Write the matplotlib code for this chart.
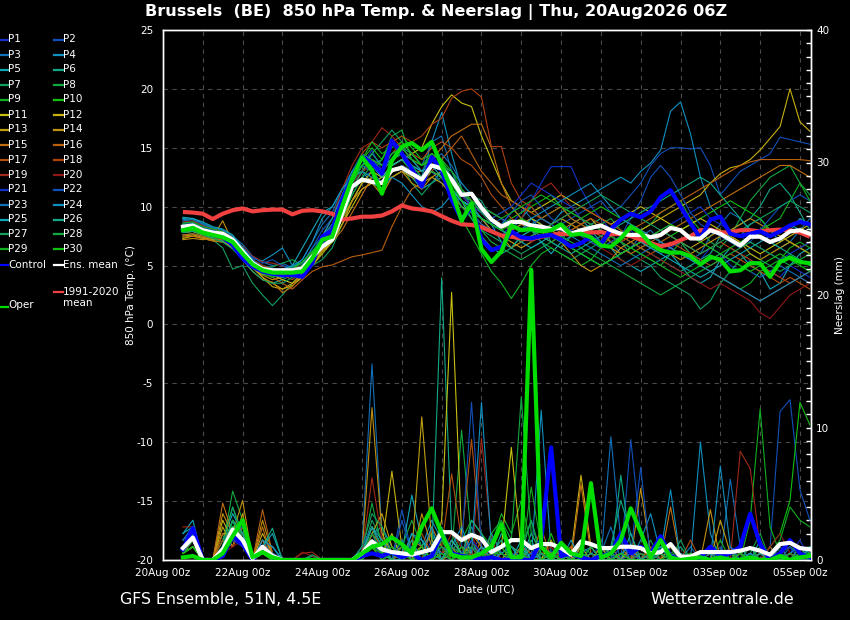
import matplotlib
matplotlib.use('Agg')
import matplotlib.pyplot as plt
from matplotlib.lines import Line2D
from matplotlib.ticker import MultipleLocator, FixedLocator

# ---------------- data ----------------
# 6-hourly steps starting 20Aug 12z (x in days since 20Aug 00z)
n_steps = 64
first_day_offset = 0.5
step_days = 0.25

xtick_days = [0, 2, 4, 6, 8, 10, 12, 14, 16]
xtick_labels = ['20Aug 00z', '22Aug 00z', '24Aug 00z', '26Aug 00z', '28Aug 00z',
                '30Aug 00z', '01Sep 00z', '03Sep 00z', '05Sep 00z']

base_colors = ['#1030c8', '#1050b8', '#1070b8', '#1090c0', '#10a8b8',
               '#10a888', '#10a060', '#10a840', '#10b020', '#10c010',
               '#c8c010', '#c8b010', '#c0a010', '#c09010', '#c07010',
               '#b86010', '#b05010', '#b04010', '#a02818', '#901818']

ens_mean_t = [8.3, 8.4, 8.0, 7.8, 7.7, 7.2, 6.2, 5.2,
              4.7, 4.6, 4.6, 4.6, 4.75, 5.75, 6.6, 7.2,
              9.4, 11.7, 12.3, 12.1, 12.0, 13.1, 13.3, 12.8,
              12.3, 13.5, 13.25, 12.3, 11.0, 11.1, 9.9, 8.9,
              8.3, 8.7, 8.7, 8.4, 8.3, 8.1, 8.2, 7.7,
              8.0, 8.2, 8.4, 8.0, 7.7, 7.6, 7.6, 7.4,
              7.6, 8.2, 8.0, 7.3, 7.3, 8.0, 7.7, 7.2,
              6.7, 7.45, 7.45, 7.0, 7.3, 7.9, 8.0, 7.7]

control_t = [8.0, 8.3, 7.9, 7.6, 7.4, 6.75, 5.6, 4.9,
             4.5, 4.3, 4.2, 4.2, 4.05, 5.2, 7.45, 8.0,
             10.6, 12.5, 14.2, 13.7, 12.8, 15.6, 14.5, 13.2,
             11.7, 14.2, 13.1, 10.6, 8.9, 10.0, 7.2, 6.3,
             6.6, 7.9, 7.4, 7.3, 7.5, 7.6, 7.2, 6.6,
             6.9, 7.45, 6.8, 8.1, 8.9, 9.4, 9.1, 9.6,
             10.8, 11.4, 10.0, 8.6, 7.3, 8.9, 9.15, 7.7,
             7.5, 7.7, 7.9, 7.5, 7.9, 8.4, 8.7, 8.5]

oper_t = [8.0, 8.2, 7.8, 7.6, 7.4, 7.0, 6.0, 5.1,
          4.6, 4.4, 4.4, 4.4, 4.5, 5.6, 7.2, 7.45,
          10.0, 12.4, 14.2, 13.1, 11.1, 13.9, 15.1, 15.4,
          14.8, 15.5, 13.5, 11.4, 8.8, 10.3, 6.4, 5.3,
          6.2, 8.4, 8.0, 8.1, 7.9, 8.0, 8.5, 7.6,
          7.7, 7.4, 6.7, 6.6, 7.3, 8.3, 7.8, 6.8,
          6.3, 6.1, 6.1, 5.8, 5.1, 5.75, 5.5, 4.5,
          4.6, 5.2, 5.2, 4.05, 5.3, 5.7, 5.3, 5.2]

clim_t = [9.55, 9.5, 9.4, 8.95, 9.4, 9.7, 9.85, 9.6,
          9.7, 9.75, 9.75, 9.35, 9.65, 9.7, 9.6, 9.4,
          8.9, 9.0, 9.15, 9.15, 9.25, 9.6, 10.1, 9.85,
          9.75, 9.6, 9.2, 8.8, 8.5, 8.45, 8.25, 7.9,
          7.55, 7.45, 7.3, 7.25, 7.45, 7.6, 7.7, 7.65,
          7.8, 7.8, 7.85, 7.65, 7.7, 7.5, 7.2, 6.9,
          6.65, 6.8, 7.15, 7.5, 8.0, 8.05, 7.8, 7.85,
          8.0, 8.0, 7.9, 8.0, 8.05, 8.0, 7.8, 7.45]

t01 = [8.1, 8.2, 7.9, 7.6, 7.5, 7.0, 6.0, 5.0,
       4.3, 4.2, 4.5, 4.0, 4.3, 5.2, 6.5, 7.5,
       10.0, 12.5, 13.5, 14.8, 13.0, 14.0, 14.5, 13.0,
       12.0, 13.0, 12.5, 11.0, 10.0, 9.5, 8.5, 8.0,
       7.5, 8.5, 9.5, 10.5, 12.0, 13.4, 13.4, 13.4,
       11.5, 10.0, 9.0, 8.0, 7.5, 8.0, 7.0, 6.5,
       6.0, 6.5, 7.0, 6.0, 5.5, 6.5, 6.0, 5.0,
       4.5, 5.5, 5.0, 4.5, 4.0, 5.0, 4.5, 4.0]
t02 = [8.6, 8.7, 8.3, 8.0, 7.9, 7.4, 6.5, 5.5,
       5.0, 4.8, 4.4, 4.6, 5.0, 6.0, 7.0, 8.0,
       9.5, 11.0, 12.5, 13.0, 12.0, 13.5, 14.0, 13.5,
       12.5, 13.0, 12.0, 11.5, 10.5, 10.0, 9.0, 8.5,
       9.0, 8.0, 8.5, 9.0, 8.5, 8.0, 8.5, 9.0,
       9.5, 10.0, 10.5, 9.5, 10.0, 11.0, 12.0, 13.5,
       14.5, 15.0, 15.0, 14.9, 15.0, 13.5, 11.0, 12.0,
       13.0, 13.5, 14.0, 14.5, 15.9, 15.7, 15.5, 15.3]
t03 = [8.9, 9.0, 8.6, 8.2, 8.0, 7.5, 6.8, 5.8,
       5.3, 5.0, 5.2, 4.8, 5.5, 7.0, 8.5, 9.5,
       11.5, 13.0, 14.5, 14.0, 13.0, 14.5, 15.0, 14.0,
       13.5, 15.5, 16.0, 13.0, 11.0, 10.5, 9.5, 9.0,
       8.5, 9.5, 10.0, 9.0, 8.0, 7.5, 7.0, 7.5,
       8.0, 7.0, 6.5, 7.0, 6.0, 6.5, 7.5, 8.0,
       7.0, 6.5, 6.0, 5.5, 6.0, 7.5, 8.5, 9.5,
       9.0, 8.0, 7.5, 7.0, 6.5, 7.0, 8.0, 9.0]
t04 = [8.4, 8.5, 8.1, 7.9, 7.8, 7.3, 6.4, 5.6,
       5.4, 5.9, 6.5, 5.0, 4.5, 6.0, 7.5, 8.5,
       10.5, 12.0, 13.0, 13.5, 12.5, 13.5, 14.0, 13.0,
       12.5, 15.5, 18.0, 14.5, 11.5, 10.0, 9.0, 8.0,
       7.5, 8.0, 9.0, 10.0, 9.0, 8.5, 9.5, 10.0,
       10.5, 11.0, 11.5, 12.0, 12.5, 12.0, 13.0, 13.7,
       14.8, 18.1, 18.9, 16.2, 12.5, 10.0, 9.0, 8.0,
       7.5, 8.5, 9.0, 8.0, 7.0, 8.0, 9.0, 8.5]
t05 = [9.0, 8.9, 8.5, 8.1, 7.9, 7.3, 6.0, 5.0,
       4.5, 4.0, 4.5, 5.0, 6.5, 8.0, 9.5, 10.0,
       11.5, 12.5, 13.0, 12.0, 11.5, 12.5, 13.0, 12.5,
       11.5, 12.0, 13.0, 11.5, 10.0, 9.5, 9.0, 8.5,
       7.0, 6.5, 7.5, 8.0, 7.0, 6.0, 7.0, 8.5,
       9.0, 8.0, 7.0, 6.5, 5.5, 5.0, 4.5, 5.0,
       5.5, 6.0, 5.0, 4.0, 3.5, 4.0, 5.5, 6.5,
       6.0, 5.0, 4.5, 3.0, 3.5, 5.0, 6.0, 6.5]
t06 = [7.6, 7.7, 7.5, 7.3, 7.1, 6.5, 5.5, 4.5,
       3.8, 3.5, 3.8, 4.2, 4.8, 5.5, 6.5, 7.5,
       9.5, 11.5, 13.0, 13.5, 14.0, 15.5, 15.0, 14.5,
       13.5, 14.0, 13.5, 13.0, 12.0, 11.0, 10.5, 9.0,
       8.0, 7.5, 8.0, 9.0, 8.5, 7.0, 6.5, 7.5,
       8.0, 8.5, 9.0, 8.5, 7.5, 7.0, 6.5, 6.0,
       5.5, 5.0, 4.5, 5.0, 5.5, 6.0, 7.5, 8.0,
       8.5, 9.0, 10.0, 11.5, 12.0, 11.0, 9.5, 8.0]
t07 = [8.0, 7.9, 7.6, 7.2, 6.5, 4.7, 5.0, 3.5,
       2.5, 1.6, 2.5, 3.5, 4.5, 5.0, 5.5, 6.5,
       8.5, 10.5, 12.0, 13.0, 12.5, 13.0, 13.5, 12.0,
       11.0, 12.0, 12.5, 11.5, 10.5, 9.0, 8.0, 7.5,
       7.0, 6.5, 6.0, 6.5, 7.0, 6.5, 6.0, 5.5,
       6.0, 6.5, 7.0, 7.5, 7.0, 6.0, 5.5, 5.0,
       4.0, 3.5, 3.0, 2.5, 1.3, 2.0, 3.5, 4.5,
       5.5, 6.0, 5.5, 5.0, 4.5, 5.0, 5.5, 5.0]
t08 = [8.2, 8.3, 7.9, 7.5, 7.4, 6.9, 6.0, 5.3,
       4.8, 4.9, 5.2, 5.5, 5.0, 5.5, 6.8, 7.5,
       10.0, 12.0, 13.5, 13.0, 14.0, 16.0, 16.5, 14.0,
       13.0, 14.5, 14.0, 12.5, 11.0, 10.5, 9.5, 9.0,
       9.5, 10.0, 9.0, 8.5, 9.0, 9.5, 10.0, 9.0,
       8.5, 8.0, 8.5, 9.0, 8.0, 7.5, 8.0, 8.5,
       9.5, 10.0, 10.5, 9.0, 8.0, 7.0, 6.5, 7.5,
       9.0, 10.5, 11.5, 12.5, 13.0, 13.5, 12.0, 11.0]
t09 = [7.9, 8.0, 7.7, 7.4, 7.3, 6.8, 5.8, 4.8,
       4.2, 4.3, 4.7, 4.9, 5.2, 6.0, 6.8, 7.3,
       9.0, 11.0, 12.5, 12.0, 12.5, 13.5, 14.0, 13.0,
       12.0, 13.0, 12.5, 11.0, 9.0, 7.5, 6.0, 4.5,
       3.5, 2.2, 3.5, 5.0, 6.0, 6.5, 6.0, 5.5,
       5.0, 5.5, 6.5, 7.5, 7.0, 6.5, 6.0, 5.5,
       5.0, 6.0, 7.0, 6.0, 5.0, 4.5, 4.0, 3.5,
       3.0, 3.5, 4.5, 5.0, 5.5, 6.5, 7.0, 6.5]
t10 = [8.5, 8.6, 8.2, 7.9, 7.8, 7.2, 6.3, 5.4,
       4.9, 4.6, 4.4, 4.3, 4.6, 5.5, 6.6, 7.0,
       9.5, 12.0, 14.0, 15.0, 14.0, 15.5, 16.0, 15.0,
       14.0, 14.5, 14.0, 12.0, 10.5, 10.0, 9.5, 9.0,
       8.5, 9.0, 9.5, 10.0, 10.5, 11.0, 10.0, 9.5,
       9.0, 9.5, 10.0, 9.5, 9.0, 8.5, 8.0, 7.5,
       7.0, 7.5, 8.0, 8.5, 9.0, 9.5, 10.0, 10.5,
       10.0, 9.5, 9.0, 8.0, 7.5, 7.0, 6.5, 6.0]
t11 = [7.3, 7.5, 7.3, 7.1, 7.0, 6.6, 5.8, 5.0,
       4.5, 4.2, 3.8, 3.5, 4.0, 5.0, 6.0, 7.0,
       8.5, 10.0, 11.5, 12.0, 12.5, 13.5, 14.0, 14.5,
       15.0, 17.0, 18.5, 19.5, 18.8, 18.5, 16.0, 14.0,
       12.0, 10.5, 10.0, 9.5, 10.0, 10.5, 11.0, 10.5,
       10.0, 9.5, 9.0, 8.5, 9.0, 9.5, 10.0, 9.5,
       9.0, 8.5, 8.0, 8.5, 9.0, 8.5, 8.0, 7.5,
       7.0, 6.5, 6.0, 6.5, 7.0, 7.5, 8.0, 8.5]
t12 = [7.8, 7.9, 7.6, 7.4, 7.3, 6.8, 6.0, 5.0,
       4.0, 3.5, 3.0, 3.3, 4.0, 5.0, 6.2, 7.0,
       9.0, 10.5, 12.0, 12.5, 12.0, 13.0, 13.5, 13.0,
       12.5, 13.0, 12.5, 11.5, 10.5, 10.0, 9.5, 9.0,
       8.5, 8.0, 8.5, 9.0, 8.5, 8.0, 7.5, 8.0,
       8.5, 9.0, 8.0, 7.5, 7.0, 7.5, 8.0, 8.5,
       9.0, 9.5, 10.0, 10.5, 11.0, 12.0, 12.8, 13.3,
       13.5, 14.0, 14.8, 15.8, 16.8, 20.0, 17.2, 16.4]
t13 = [7.5, 7.6, 7.4, 7.2, 7.2, 6.8, 5.8, 4.8,
       4.0, 3.2, 3.0, 3.5, 4.3, 5.3, 6.3, 7.0,
       8.5, 10.5, 12.0, 13.0, 12.5, 12.5, 13.0, 12.5,
       12.0, 12.5, 12.0, 11.0, 10.0, 9.5, 8.5, 8.0,
       7.5, 7.0, 6.5, 7.0, 7.5, 8.5, 9.0, 8.5,
       8.0, 7.5, 7.0, 6.5, 6.0, 6.5, 7.0, 7.5,
       8.0, 7.5, 7.0, 6.5, 7.0, 7.5, 8.0, 7.5,
       7.0, 6.0, 5.5, 6.0, 6.5, 7.0, 6.5, 6.0]
t14 = [7.2, 7.3, 7.2, 7.4, 8.8, 7.0, 6.0, 5.0,
       4.2, 3.8, 4.0, 4.5, 5.0, 6.0, 7.0, 7.5,
       9.0, 10.5, 11.5, 12.0, 11.0, 12.5, 13.0, 12.0,
       11.5, 12.5, 13.0, 12.0, 11.0, 10.0, 9.0, 8.0,
       7.5, 6.5, 7.0, 7.5, 8.0, 7.5, 7.0, 6.0,
       5.0, 4.5, 5.0, 5.5, 6.5, 7.0, 7.5, 7.0,
       6.5, 6.0, 5.5, 6.0, 6.5, 7.0, 7.5, 8.0,
       8.5, 9.0, 8.5, 8.0, 7.5, 7.0, 6.5, 7.0]
t15 = [7.4, 7.5, 7.3, 7.1, 7.0, 6.5, 5.6, 4.5,
       3.8, 3.6, 2.7, 3.2, 4.5, 5.5, 6.5, 7.0,
       8.0, 9.5, 11.0, 12.5, 12.0, 13.0, 13.5, 13.0,
       13.0, 14.0, 15.0, 16.0, 16.5, 17.0, 17.0, 15.0,
       12.0, 10.0, 9.0, 8.5, 8.0, 7.5, 8.0, 8.5,
       9.0, 8.5, 8.0, 7.0, 6.5, 6.0, 6.5, 7.0,
       7.5, 8.0, 8.5, 9.0, 9.5, 10.0, 10.5, 11.0,
       11.5, 12.0, 12.5, 13.0, 13.5, 13.5, 13.0, 12.5]
t16 = [7.6, 7.7, 7.5, 7.3, 7.2, 6.8, 6.0, 5.2,
       4.5, 4.0, 3.5, 3.0, 3.8, 4.5, 4.9, 5.05,
       5.4, 5.75, 5.9, 6.1, 6.3, 8.3, 10.0, 11.5,
       12.0, 13.0, 14.0, 15.0, 16.0, 14.5, 13.0, 12.0,
       11.0, 10.5, 10.0, 9.5, 9.0, 9.5, 10.0, 9.0,
       8.5, 8.0, 7.5, 7.0, 7.5, 8.0, 8.5, 9.0,
       9.5, 10.0, 10.5, 11.0, 11.5, 12.0, 12.5, 13.0,
       13.5, 13.8, 14.0, 14.0, 14.0, 14.0, 14.0, 13.9]
t17 = [8.0, 8.1, 7.8, 7.5, 7.5, 7.0, 6.2, 5.4,
       4.8, 4.5, 4.2, 3.8, 4.5, 5.5, 6.5, 7.5,
       9.5, 11.5, 13.0, 14.0, 13.5, 14.5, 15.5, 14.5,
       14.0, 15.0, 15.5, 15.0, 14.0, 13.5, 12.5, 11.0,
       10.0, 9.0, 8.5, 8.0, 7.5, 7.0, 7.5, 8.0,
       8.5, 9.0, 8.5, 8.0, 7.5, 7.0, 6.5, 6.0,
       6.5, 7.0, 6.5, 6.0, 5.5, 5.0, 5.5, 6.0,
       5.5, 5.0, 4.5, 4.0, 3.5, 4.0, 3.5, 3.0]
t18 = [8.3, 8.4, 8.0, 7.7, 7.6, 7.1, 6.3, 5.5,
       5.0, 4.7, 4.3, 4.0, 4.5, 5.5, 7.0, 8.0,
       10.5, 12.5, 14.5, 15.5, 15.0, 15.5, 16.0, 15.5,
       16.0, 17.0, 17.5, 19.2, 19.8, 20.0, 19.3, 15.1,
       15.1, 12.0, 10.5, 10.0, 9.0, 8.5, 9.0, 9.5,
       10.0, 9.5, 9.0, 8.5, 8.0, 7.5, 7.0, 6.5,
       7.0, 7.5, 7.0, 6.5, 6.0, 6.5, 7.0, 6.5,
       6.0, 5.5, 5.0, 4.5, 4.0, 3.5, 4.0, 4.5]
t19 = [8.7, 8.8, 8.4, 8.1, 7.9, 7.4, 6.6, 5.8,
       5.3, 5.2, 5.0, 4.7, 5.0, 6.0, 7.5, 9.0,
       11.5, 13.5, 15.0, 15.5, 16.7, 16.0, 15.0, 14.0,
       13.5, 14.0, 13.5, 12.5, 11.5, 10.5, 10.0, 9.5,
       9.0, 8.5, 9.0, 10.5, 11.5, 12.0, 11.0, 10.0,
       9.0, 8.5, 8.0, 7.5, 7.0, 7.5, 8.0, 7.5,
       7.0, 6.5, 6.0, 5.5, 5.0, 4.5, 4.0, 3.5,
       3.0, 2.5, 2.0, 2.5, 3.0, 3.5, 4.0, 3.5]
t20 = [8.2, 8.3, 7.9, 7.7, 7.6, 7.0, 6.1, 5.2,
       4.6, 4.4, 4.5, 4.8, 5.2, 6.0, 7.0, 8.0,
       10.0, 12.0, 13.0, 13.5, 13.0, 14.0, 14.5, 14.0,
       13.0, 13.5, 13.0, 12.0, 11.0, 10.0, 9.5, 9.0,
       8.5, 8.0, 7.5, 7.0, 7.5, 8.0, 8.5, 8.0,
       7.5, 7.0, 6.5, 6.0, 5.5, 5.0, 5.5, 6.0,
       5.5, 5.0, 4.5, 4.0, 3.5, 3.0, 3.5, 3.0,
       2.5, 2.0, 1.0, 0.5, 1.5, 2.5, 3.0, 3.5]
t21 = [8.0, 8.1, 7.8, 7.6, 7.6, 7.1, 6.2, 5.3,
       4.6, 4.5, 4.2, 4.1, 4.4, 5.4, 6.8, 7.8,
       10.0, 12.0, 13.5, 14.0, 13.5, 14.5, 15.0, 14.0,
       13.0, 14.0, 13.5, 12.5, 11.0, 10.0, 9.5, 9.0,
       9.5, 10.0, 11.0, 12.0, 11.5, 11.0, 10.5, 10.0,
       9.0, 8.5, 8.0, 7.5, 7.0, 6.5, 7.0, 7.5,
       8.0, 8.5, 9.0, 9.5, 10.0, 9.0, 8.5, 8.0,
       7.5, 7.0, 6.5, 6.0, 5.5, 6.0, 6.5, 7.0]
t22 = [8.5, 8.6, 8.2, 8.0, 7.8, 7.3, 6.5, 5.7,
       5.2, 5.5, 5.0, 4.8, 5.2, 6.5, 8.0, 9.0,
       11.0, 12.5, 13.5, 13.0, 12.0, 13.0, 13.5, 13.0,
       12.5, 13.5, 13.0, 12.0, 10.5, 9.5, 8.5, 8.0,
       8.5, 9.5, 10.5, 11.0, 10.0, 9.0, 8.5, 8.0,
       7.5, 7.0, 6.5, 7.0, 7.5, 9.0, 10.5, 12.5,
       13.5, 12.5, 11.0, 9.5, 8.5, 8.0, 7.5, 7.0,
       6.5, 7.0, 8.0, 9.0, 10.0, 10.5, 11.0, 10.5]
t23 = [8.8, 8.9, 8.5, 8.2, 8.0, 7.5, 6.5, 5.5,
       4.8, 4.5, 4.0, 4.3, 5.0, 6.5, 7.5, 8.5,
       10.5, 12.5, 14.0, 13.5, 13.0, 14.0, 14.5, 13.5,
       13.0, 14.0, 14.5, 13.5, 12.0, 11.0, 10.0, 9.5,
       9.0, 8.5, 8.0, 8.5, 9.0, 8.5, 8.0, 7.5,
       7.0, 6.5, 6.0, 5.5, 5.0, 5.5, 6.0, 6.5,
       7.0, 6.5, 6.0, 5.5, 5.0, 5.5, 6.0, 5.5,
       5.0, 4.5, 4.0, 4.5, 5.0, 4.5, 4.0, 3.5]
t24 = [8.3, 8.4, 8.1, 7.8, 7.7, 7.2, 6.3, 5.4,
       4.7, 4.5, 4.7, 5.0, 5.5, 7.0, 9.0, 10.0,
       11.5, 12.5, 13.0, 12.5, 12.0, 12.5, 12.0, 11.0,
       10.0, 9.5, 10.0, 11.0, 10.5, 10.0, 9.0, 8.5,
       8.0, 7.5, 8.0, 9.0, 9.5, 10.0, 10.5, 11.0,
       11.5, 12.0, 11.0, 10.0, 9.0, 8.5, 8.0, 7.5,
       7.0, 6.5, 6.0, 5.5, 5.0, 4.5, 4.0, 3.5,
       3.0, 2.5, 2.0, 2.5, 3.0, 3.5, 4.0, 4.5]
t25 = [9.1, 9.0, 8.7, 8.3, 8.1, 7.6, 6.5, 5.4,
       4.6, 4.2, 4.0, 4.4, 5.0, 6.0, 7.5, 9.0,
       11.0, 13.0, 14.0, 13.5, 12.5, 13.5, 14.0, 13.5,
       13.0, 13.5, 12.5, 11.5, 10.5, 10.0, 9.0, 8.5,
       8.0, 7.5, 7.0, 6.5, 7.0, 7.5, 7.0, 6.5,
       6.0, 5.5, 5.0, 5.5, 6.0, 6.5, 7.0, 6.5,
       6.0, 5.5, 5.0, 4.5, 4.0, 4.5, 5.0, 5.5,
       6.0, 6.5, 7.0, 7.5, 8.0, 8.5, 8.0, 7.5]
t26 = [7.8, 7.9, 7.7, 7.4, 7.3, 6.9, 6.0, 5.2,
       4.7, 4.5, 4.6, 4.9, 5.3, 6.2, 7.3, 8.0,
       10.0, 12.0, 13.5, 14.5, 13.5, 14.0, 14.5, 14.0,
       13.0, 13.5, 13.0, 12.0, 10.5, 9.0, 7.5, 6.5,
       6.0, 6.5, 7.5, 8.0, 7.5, 7.0, 6.5, 6.0,
       6.5, 7.0, 7.5, 8.0, 8.5, 9.0, 9.5, 10.0,
       10.5, 11.0, 11.5, 12.0, 12.5, 12.0, 11.0, 10.0,
       9.0, 8.0, 7.5, 7.0, 6.5, 6.0, 5.5, 5.0]
t27 = [8.1, 8.0, 7.6, 7.3, 7.0, 6.4, 5.5, 4.5,
       3.8, 3.5, 3.5, 4.0, 4.8, 5.6, 6.5, 7.3,
       9.3, 11.5, 13.0, 14.5, 15.5, 16.5, 15.5, 14.5,
       13.5, 14.0, 13.5, 12.5, 11.5, 10.5, 9.5, 8.5,
       8.0, 7.5, 7.0, 7.5, 8.0, 8.5, 9.0, 9.5,
       10.0, 10.5, 11.0, 10.5, 10.0, 9.5, 9.0, 8.5,
       8.0, 7.5, 7.0, 6.5, 6.0, 6.5, 7.0, 7.5,
       8.0, 8.5, 9.0, 9.5, 10.0, 10.5, 10.0, 9.5]
t28 = [8.4, 8.5, 8.1, 7.8, 7.7, 7.1, 6.2, 5.2,
       4.4, 4.1, 4.3, 4.6, 5.0, 5.8, 6.5, 7.0,
       9.0, 11.0, 12.5, 13.5, 13.0, 14.0, 14.5, 13.5,
       12.5, 13.0, 12.5, 11.5, 10.0, 9.0, 8.0, 7.0,
       6.5, 6.0, 5.5, 6.0, 6.5, 7.0, 7.5, 7.0,
       6.5, 6.0, 5.5, 5.0, 4.5, 4.0, 3.5, 3.0,
       2.5, 3.0, 3.5, 4.0, 4.5, 5.0, 5.5, 6.0,
       6.5, 7.0, 6.5, 6.0, 5.5, 5.0, 5.5, 6.0]
t29 = [8.6, 8.7, 8.3, 8.1, 7.9, 7.3, 6.2, 5.0,
       4.3, 4.0, 4.2, 4.5, 5.0, 6.0, 7.3, 8.3,
       10.5, 12.5, 14.0, 15.5, 14.5, 15.0, 15.5, 14.5,
       13.5, 14.5, 14.0, 13.0, 11.5, 10.5, 10.0, 9.5,
       9.0, 9.5, 10.0, 10.5, 11.0, 10.5, 10.0, 9.5,
       9.0, 8.5, 8.0, 7.5, 7.0, 6.5, 6.0, 5.5,
       5.0, 4.5, 4.0, 4.5, 5.0, 5.5, 6.0, 6.5,
       7.0, 7.5, 8.0, 8.5, 9.0, 10.5, 12.0, 10.5]
t30 = [7.9, 8.0, 7.8, 7.5, 7.4, 6.9, 6.0, 5.1,
       4.5, 4.3, 4.4, 4.7, 5.3, 6.2, 7.1, 7.6,
       9.8, 12.0, 13.5, 14.0, 13.5, 14.5, 15.0, 14.0,
       13.5, 14.0, 13.0, 12.0, 10.5, 9.5, 9.0, 8.5,
       8.0, 8.5, 9.0, 8.5, 8.0, 7.5, 7.0, 6.5,
       6.0, 5.5, 5.0, 5.5, 6.0, 6.5, 7.0, 7.5,
       8.0, 8.5, 8.0, 7.5, 7.0, 6.5, 6.0, 5.5,
       5.0, 4.5, 5.0, 5.5, 6.0, 5.5, 5.0, 4.5]

# precipitation (mm per 6 h)
ens_mean_p = [0.9, 1.7, 0, 0, 0.8, 2.3, 1.5, 0.1,
              1.0, 0.3, 0, 0, 0, 0, 0, 0,
              0, 0, 0.5, 1.4, 0.8, 0.6, 0.5, 0.4,
              0.6, 0.8, 2.1, 2.1, 1.5, 1.9, 1.6, 0.6,
              1.0, 1.5, 1.5, 0.9, 1.2, 1.2, 0.9, 0.4,
              1.4, 1.2, 0.9, 0.9, 1.0, 1.0, 0.9, 0.5,
              0.6, 1.2, 0.25, 0.25, 0.6, 0.6, 0.6, 0.6,
              0.7, 0.9, 0.7, 0.4, 1.2, 1.3, 0.9, 0.8]
control_p = [0.8, 2.4, 0, 0, 0.3, 1.8, 1.2, 0,
             1.0, 0.2, 0, 0, 0, 0, 0, 0,
             0, 0, 0.3, 0.5, 0.3, 0.6, 0.2, 0.5,
             0, 0.3, 2.0, 0.5, 0.3, 0.2, 0.1, 0.2,
             0, 0, 0, 0, 1.5, 8.5, 0.3, 0.5,
             0.2, 0, 0.3, 0.5, 2.0, 0.5, 1.0, 0.5,
             1.8, 0.3, 0, 0, 0.2, 1.0, 0.3, 0.5,
             1.0, 3.5, 1.2, 0, 0.5, 1.5, 0.5, 0.2]
oper_p = [0.2, 0.3, 0, 0, 0.5, 1.8, 3.0, 0.2,
          0.6, 0.2, 0, 0, 0, 0, 0, 0,
          0, 0, 0.5, 1.0, 1.2, 1.7, 1.2, 0.5,
          2.5, 3.9, 2.0, 0.4, 0.2, 0.2, 0.5, 1.0,
          2.7, 0.2, 0.2, 21.9, 1.0, 0.2, 1.3, 0.5,
          0.3, 5.8, 0.2, 0.5, 1.5, 3.9, 2.1, 0.2,
          1.5, 0.2, 0, 0.1, 0.2, 0, 0.2, 0,
          0, 0.2, 0, 0, 0.3, 0, 0.2, 0.3]

r01 = [1.0, 2.0, 0, 0, 1.0, 2.5, 1.5, 0, 1.0, 0.5, 0, 0, 0, 0, 0, 0,
       0, 0, 0.5, 2.0, 0.5, 0, 0.5, 1.0, 0, 1.5, 0.5, 0, 1.0, 0.5, 2.0, 0,
       0, 0.5, 0, 1.0, 0, 0.5, 1.5, 0, 0, 0.5, 1.0, 0, 2.0, 0.5, 0, 0.5,
       0, 0, 1.0, 0, 0.5, 0, 0, 1.0, 0.5, 0, 0, 1.0, 0, 0.5, 1.5, 0]
r02 = [0.5, 1.5, 0, 0, 0.5, 1.5, 2.0, 0, 0.5, 0, 0, 0, 0, 0, 0, 0,
       0, 0, 0, 1.0, 0.5, 0, 3.8, 0.5, 0, 0, 0.5, 1.0, 0, 0.5, 0, 1.0,
       0.5, 0, 0, 0.5, 1.0, 0, 0, 0.5, 0, 1.0, 0, 0.5, 0, 9.1, 2.0, 0,
       1.0, 0, 0, 0.5, 0, 0, 1.0, 0, 0, 0.5, 0, 1.0, 11.2, 12.1, 5.3, 3.0]
r03 = [1.5, 2.5, 0, 0, 1.0, 3.0, 1.0, 0, 1.5, 0.5, 0, 0, 0, 0, 0, 0,
       0, 0, 1.0, 14.8, 2.0, 0.5, 0, 1.0, 0.5, 2.0, 1.0, 0, 0.5, 2.5, 1.0, 0,
       0, 1.0, 0.5, 0, 1.5, 0.5, 0, 0, 1.0, 0, 0.5, 2.5, 0, 1.0, 0, 0.5,
       0, 0.5, 0, 1.0, 0, 0.5, 0, 6.1, 1.0, 0, 0.5, 0, 0, 1.0, 0, 0.5]
r04 = [1.0, 2.0, 0, 0, 0.5, 2.0, 2.5, 0, 1.0, 1.0, 0, 0, 0, 0, 0, 0,
       0, 0, 0.5, 1.5, 1.0, 0, 0, 2.0, 1.0, 3.0, 1.5, 0.5, 0, 0, 0.5, 1.0,
       0, 0, 1.0, 0, 11.3, 0.5, 0, 0, 0.5, 0, 1.0, 0, 0.5, 0, 1.5, 3.5,
       0.5, 0, 0, 0, 8.9, 2.0, 0, 0, 0.5, 0, 1.0, 0, 0, 0.5, 1.0, 0]
r05 = [2.0, 3.0, 0, 0, 1.5, 3.5, 2.0, 0, 1.5, 1.0, 0, 0, 0, 0, 0, 0,
       0, 0, 0, 2.0, 2.5, 1.0, 0.5, 4.9, 1.5, 0.5, 2.0, 1.0, 0, 1.5, 0, 0.5,
       1.0, 0, 0, 2.0, 0.5, 0, 1.0, 0, 0, 0.5, 0, 1.0, 0, 2.0, 0, 0,
       1.0, 0.5, 0, 0, 0, 1.0, 0, 0.5, 0, 0, 1.5, 0, 0.5, 0, 0, 1.0]
r06 = [1.0, 2.5, 0, 0, 1.0, 3.0, 1.5, 0, 1.0, 0.5, 0, 0, 0, 0, 0, 0,
       0, 0, 1.0, 2.5, 0.5, 0, 1.0, 0.5, 0, 0.5, 21.3, 2.0, 0.5, 0, 1.0, 0,
       2.0, 0.5, 0, 1.5, 0, 0, 0.5, 1.0, 0, 0, 0.5, 0, 6.4, 1.0, 0, 0.5,
       0, 1.0, 0, 0.5, 0, 0, 0.5, 0, 1.0, 0, 0, 0.5, 0, 0, 1.0, 0.5]
r07 = [0.5, 1.5, 0, 0, 1.5, 4.0, 2.0, 0, 0.5, 0.5, 0, 0, 0, 0.3, 0, 0,
       0, 0, 0.5, 3.0, 1.5, 0, 0.5, 1.0, 0.5, 0, 1.0, 0.5, 2.0, 0, 0.5, 0,
       0.5, 1.0, 0, 0, 0.5, 0, 1.5, 0, 0.5, 0, 1.0, 0, 0, 0.5, 0, 1.5,
       0, 0, 0.5, 0, 0, 0.5, 0, 0, 0.5, 1.0, 0, 0, 0.5, 0, 0, 0]
r08 = [1.0, 2.0, 0, 0, 1.0, 5.2, 3.0, 0, 1.0, 0.5, 0, 0, 0, 0, 0, 0,
       0, 0, 0.5, 4.3, 1.0, 0.5, 1.0, 3.0, 1.0, 2.0, 0, 0.5, 9.8, 1.5, 0, 1.0,
       0.5, 0, 1.0, 3.0, 0.5, 0, 0, 0.5, 1.0, 0.5, 0, 0, 1.0, 0, 0.5, 0,
       0, 0.5, 1.0, 0, 0, 0.5, 0, 0, 0, 0.5, 2.0, 0, 0, 0.5, 0, 0]
r09 = [0.5, 1.0, 0, 0, 0.5, 2.0, 1.0, 0, 0.5, 0, 0, 0, 0, 0, 0, 0,
       0, 0, 0, 1.5, 0.5, 1.0, 0, 0.5, 0, 1.0, 0.5, 0, 1.5, 3.0, 2.0, 1.0,
       3.5, 2.0, 4.5, 1.0, 0, 0.5, 0, 0, 0.5, 0, 1.0, 0.5, 0, 0, 0.5, 0,
       0.5, 0, 0, 0.5, 0, 0, 1.5, 0, 0, 3.0, 11.4, 2.5, 0.5, 1.0, 0.5, 0]
r10 = [0.5, 1.0, 0, 0, 1.0, 2.5, 2.0, 0, 0.5, 0, 0, 0, 0, 0, 0, 0,
       0, 0, 0.5, 1.0, 0, 0.5, 1.5, 0, 0.5, 0, 1.5, 0, 1.0, 0, 0.5, 0,
       0, 0.5, 0, 1.0, 0, 2.0, 0, 0.5, 0, 1.0, 0, 0, 0.5, 0, 0, 0.5,
       0, 0, 0.5, 0, 0, 0, 0.5, 0, 0, 0.5, 0, 1.0, 2.0, 4.5, 11.9, 10.2]
r11 = [0.5, 1.0, 0, 0, 2.0, 2.0, 1.0, 0, 1.0, 0, 0, 0, 0, 0, 0, 0,
       0, 0, 0.5, 1.0, 0.5, 2.0, 0, 0.5, 1.0, 0, 3.0, 20.2, 2.0, 0.5, 0, 0.5,
       1.0, 8.5, 0.5, 0, 0.5, 0, 1.0, 0, 0, 0.5, 0, 0.5, 0, 1.0, 0, 0,
       0.5, 0, 0, 0.5, 0, 0, 0, 0.5, 0, 0, 0.5, 0, 0, 0.5, 0, 0.5]
r12 = [0.5, 1.5, 0, 0, 3.0, 1.5, 2.5, 0, 2.0, 0.5, 0, 0, 0, 0, 0, 0,
       0, 0, 0.5, 2.5, 1.0, 6.7, 1.0, 0, 0.5, 1.0, 0, 1.5, 0.5, 0, 1.0, 0.5,
       0, 1.0, 0.5, 0, 0, 1.5, 0, 0.5, 6.4, 1.0, 0, 0.5, 0, 0, 1.0, 0,
       0, 0.5, 0, 0, 0.5, 0, 0, 0, 0.5, 0, 0, 0.5, 0, 0, 1.0, 0]
r13 = [0.5, 1.0, 0, 0, 2.5, 1.0, 3.5, 0, 1.5, 0, 0, 0, 0, 0, 0, 0,
       0, 0, 0, 2.0, 3.5, 1.0, 0, 0.5, 10.8, 1.5, 0.5, 0, 1.0, 0.5, 0, 2.0,
       0.5, 0, 1.0, 0.5, 0, 0, 0.5, 0, 1.0, 0, 0.5, 0, 0, 0.5, 0, 0,
       0, 1.0, 0, 0.5, 0, 0, 3.0, 0.5, 0, 0.5, 0, 0, 0.5, 0, 0, 0]
r14 = [0.5, 1.0, 0, 0, 3.5, 2.0, 4.5, 0, 3.0, 0.5, 0, 0, 0, 0, 0, 0,
       0, 0, 0.5, 11.5, 2.0, 0.5, 1.0, 0, 3.5, 1.0, 0, 0.5, 0, 2.0, 1.0, 0,
       0.5, 0, 0, 1.0, 0, 0.5, 0, 1.0, 0.5, 0, 1.0, 0, 0, 0, 5.4, 0.5,
       0, 0, 0.5, 0, 0, 3.8, 0, 0, 0.5, 0, 0, 1.0, 0, 0, 0.5, 0]
r15 = [0.5, 1.5, 0, 0, 4.3, 2.0, 3.0, 0, 2.5, 0, 0, 0, 0, 0, 0, 0,
       0, 0, 0, 1.5, 0.5, 1.0, 0, 0.5, 0, 2.5, 1.0, 0, 0.5, 0, 1.5, 0.5,
       0, 0.5, 0, 0, 1.0, 0.5, 0, 0, 5.7, 0.5, 0, 1.0, 0, 0, 0.5, 0,
       0, 4.0, 0, 0.5, 0, 0, 0, 0.5, 0, 0, 0.5, 0, 0, 0.5, 0, 0]
r16 = [0.5, 1.0, 0, 0, 2.0, 1.5, 2.0, 0, 3.8, 0.5, 0, 0, 0, 0, 0, 0,
       0, 0, 0, 2.0, 1.0, 0, 0.5, 1.5, 1.0, 0, 0.5, 1.0, 0, 0.5, 0, 1.0,
       0.5, 0, 0.5, 0, 2.5, 0, 0, 0, 0.5, 0, 0, 0.5, 1.0, 0, 0, 1.0,
       0, 0.5, 0, 0, 0, 0.5, 0, 0, 0, 0, 0.5, 0, 0, 0, 0.5, 0]
r17 = [0.5, 1.5, 0, 0, 1.5, 1.0, 2.5, 0, 1.5, 0, 0, 0, 0, 0, 0, 0,
       0, 0, 0.5, 1.0, 0, 0.5, 0, 1.0, 2.0, 0.5, 1.0, 6.5, 1.5, 9.1, 1.0, 0,
       0.5, 0, 1.0, 0.5, 0, 0, 0, 1.0, 0, 0.5, 0, 0, 0.5, 0, 1.0, 0,
       0.5, 0, 0, 1.5, 0, 0, 0, 0, 0.5, 0, 0, 0, 1.0, 0, 0, 0.5]
r18 = [1.0, 2.5, 0, 0, 1.0, 2.0, 1.0, 0, 0.5, 0, 0, 0, 0, 0, 0, 0,
       0, 0, 0, 1.5, 0.5, 0, 1.0, 0.5, 0.5, 0, 2.0, 0.5, 0, 1.0, 0, 0.5,
       1.0, 0, 0, 0.5, 0, 0.5, 0, 0, 0, 0, 0.5, 0, 0, 0, 0.5, 0,
       0, 0, 0, 0.5, 0, 0, 0, 0, 0, 0, 0, 0.5, 0, 0, 0, 0]
r19 = [2.5, 2.5, 0, 0, 1.0, 1.5, 2.0, 0, 1.0, 0, 0, 0, 0.5, 0.6, 0, 0,
       0, 0, 0.5, 6.2, 1.5, 0.5, 0, 1.0, 0.5, 1.0, 0.5, 2.0, 1.0, 0, 9.2, 1.5,
       0, 0.5, 0, 0, 0.5, 1.0, 0, 0, 0.5, 0, 0, 0.5, 0, 0, 0, 0.5,
       0, 0, 0, 0, 0.5, 0, 0, 0, 8.2, 6.9, 1.0, 0, 0.5, 0, 0, 0]
r20 = [1.5, 2.0, 0, 0, 0.5, 1.0, 1.5, 0, 0.5, 0, 0, 0, 0.6, 0.3, 0, 0,
       0, 0, 0, 1.0, 0.5, 0, 0, 0.5, 0, 0.5, 1.0, 0, 0.5, 2.0, 0, 0,
       0.5, 0, 0, 0.5, 0, 0, 0.5, 0, 0, 0, 0.5, 0, 0, 0, 0, 0,
       0, 0.5, 0, 0, 0, 0, 0, 0, 0, 0, 0, 1.0, 2.0, 0.5, 0, 0]
r21 = [1.0, 2.0, 0, 0, 0.5, 1.5, 1.0, 0, 0.5, 0.5, 0, 0, 0, 0, 0, 0,
       0, 0, 0.5, 1.5, 0, 0.5, 0, 0.5, 0, 1.0, 0.5, 0, 0.5, 1.5, 0.5, 0,
       0, 0.5, 0, 0.5, 1.0, 0, 0, 0.5, 0, 0.5, 0, 0, 1.0, 0.5, 0, 0,
       1.0, 0, 0, 0, 0.5, 0, 0, 0, 0, 0.5, 0, 0, 0.5, 1.0, 0, 0]
r22 = [1.5, 2.0, 0, 0, 0.5, 2.5, 1.5, 0, 1.0, 0.5, 0, 0, 0, 0, 0, 0,
       0, 0, 1.0, 2.5, 1.0, 0, 3.0, 0.5, 0, 1.0, 0.5, 0, 1.0, 11.9, 1.0, 0.5,
       0, 0, 0.5, 0, 0.5, 0, 1.0, 0, 0.5, 0, 0, 0, 0, 0.5, 7.0, 0,
       0.5, 0, 0, 0, 0, 0, 0, 0, 0.5, 0, 0, 0, 0, 0, 0, 0.5]
r23 = [1.5, 2.5, 0, 0, 1.0, 2.0, 2.5, 0, 1.0, 0.5, 0, 0, 0, 0, 0, 0,
       0, 0, 0.5, 1.0, 0.5, 0, 1.5, 0, 0.5, 0, 1.0, 0.5, 0, 1.0, 0.5, 2.0,
       0.5, 0, 0, 0.5, 0, 0, 0.5, 0, 0.5, 1.0, 0, 9.3, 1.5, 0, 0, 0.5,
       0, 0, 0.5, 0, 0, 0.5, 0, 0, 0, 0.5, 0, 0, 1.0, 0, 0.5, 0]
r24 = [1.0, 2.0, 0, 0, 0.5, 3.0, 2.0, 0, 1.5, 1.0, 0, 0, 0, 0, 0, 0,
       0, 0, 0, 1.5, 0.5, 0, 0, 1.0, 0.5, 2.5, 0, 1.0, 2.5, 0.5, 11.9, 1.0,
       0.5, 1.0, 0, 0, 0.5, 0, 0, 1.5, 0, 0, 0.5, 0, 0.5, 1.0, 0, 0,
       0.5, 5.3, 0, 0, 0.5, 0, 7.1, 1.0, 0, 0.5, 0, 0, 0.5, 0, 0, 0.5]
r25 = [2.0, 2.5, 0, 0, 1.0, 2.5, 1.5, 0, 1.0, 2.0, 0, 0, 0, 0, 0, 0,
       0, 0, 0.5, 2.5, 1.5, 0.5, 0, 2.0, 1.5, 0.5, 0, 1.5, 0.5, 0, 1.0, 0,
       0.5, 0, 1.5, 0, 0, 0.5, 0, 0, 0.5, 0, 0, 0.5, 0, 0, 0, 0,
       0, 0, 0, 0.5, 0, 0, 0, 0, 0, 0, 0.5, 0, 0, 0, 0, 1.0]
r26 = [1.0, 2.0, 0, 0, 1.0, 3.0, 2.0, 0, 1.0, 2.4, 0, 0, 0, 0, 0, 0,
       0, 0, 0.5, 2.5, 1.0, 0, 0, 1.5, 0, 1.0, 2.5, 0.5, 0, 3.0, 2.0, 0.5,
       1.5, 0, 0, 1.0, 0, 0, 0.5, 0, 0, 0.5, 0, 1.0, 4.5, 2.0, 0, 0.5,
       1.0, 0, 0, 0, 0, 0, 0, 0.5, 0, 0, 0, 0.5, 0, 0, 0.5, 0]
r27 = [0.5, 1.5, 0, 0, 1.0, 4.0, 1.5, 0, 0.5, 0, 0, 0, 0, 0.4, 0, 0,
       0, 0, 1.0, 3.5, 2.5, 0.5, 0, 1.0, 0.5, 1.0, 0, 1.0, 0.5, 0, 0.5, 1.5,
       2.5, 1.0, 0.5, 3.0, 0, 0, 0, 0.5, 0, 0.5, 0, 0, 0.5, 0, 0.5, 0,
       0.5, 0, 1.5, 0, 0, 0, 0.5, 0, 0, 1.0, 0, 0, 0.5, 0, 1.0, 0]
r28 = [0.5, 1.0, 0, 0, 0.5, 3.0, 1.5, 0, 0.5, 0, 0, 0, 0, 0, 0, 0,
       0, 0, 0.5, 2.0, 0.5, 0, 1.0, 0, 0.5, 0, 1.5, 0.5, 0, 1.0, 0, 2.0,
       3.0, 1.5, 12.3, 2.0, 0.5, 0, 0, 0.5, 0, 1.0, 0, 0.5, 0, 0, 0, 0,
       0.5, 0, 0, 0, 0, 0, 0.5, 0, 0, 0, 1.0, 0, 0, 0.5, 0, 0]
r29 = [0.5, 1.0, 0, 0, 0.5, 2.0, 1.5, 0, 0.5, 0, 0, 0, 0, 0, 0, 0,
       0, 0, 0, 1.0, 0.5, 1.0, 0, 0.5, 0, 0.5, 1.0, 0, 0.5, 0, 0, 0.5,
       0.5, 0, 0, 5.5, 1.0, 0, 0.5, 0, 0, 0, 0.5, 0, 0, 0, 0, 0,
       0, 0.5, 0, 0, 0, 0, 0, 0.5, 0, 0, 0, 0.5, 1.5, 4.0, 3.0, 2.5]
r30 = [0.5, 1.0, 0, 0, 0.5, 2.5, 3.0, 0, 0.5, 0, 0, 0, 0, 0, 0, 0,
       0, 0, 0.5, 1.0, 0, 0.5, 0.5, 0, 1.0, 0, 0.5, 0, 1.0, 0, 0.5, 0,
       1.0, 0, 0.5, 0, 0, 0.5, 0, 0, 0.5, 0, 0, 0, 0.5, 0, 0, 0,
       0, 0, 0, 0.5, 0, 0, 0, 0, 0.5, 0, 0, 0, 0, 0, 0.5, 0.5]

member_t = [t01, t02, t03, t04, t05, t06, t07, t08, t09, t10,
            t11, t12, t13, t14, t15, t16, t17, t18, t19, t20,
            t21, t22, t23, t24, t25, t26, t27, t28, t29, t30]
member_p = [r01, r02, r03, r04, r05, r06, r07, r08, r09, r10,
            r11, r12, r13, r14, r15, r16, r17, r18, r19, r20,
            r21, r22, r23, r24, r25, r26, r27, r28, r29, r30]
member_names = ['P%d' % (k + 1) for k in range(30)]
member_colors = [base_colors[k % 20] for k in range(30)]

times = [first_day_offset + step_days * k for k in range(n_steps)]

# ---------------- figure ----------------
W, H = 850, 620
plt.rcParams['font.family'] = ['DejaVu Sans']
plt.rcParams['axes.unicode_minus'] = False
fig = plt.figure(figsize=(W / 100, H / 100), dpi=100, facecolor='black')
ax_l, ax_r, ax_t, ax_b = 163, 810.7, 30, 560
ax = fig.add_axes([ax_l / W, 1 - ax_b / H, (ax_r - ax_l) / W, (ax_b - ax_t) / H])
ax.set_facecolor('black')
ax2 = ax.twinx()

RED = '#f04040'
CTRL = '#0000ff'
OPER = '#00dd00'
WHITE = '#ffffff'

for t, c in zip(member_t, member_colors):
    ax.plot(times, t, color=c, lw=0.8, zorder=2)
ax.plot(times, clim_t, color=RED, lw=3.0, zorder=3, solid_capstyle='butt')
ax.plot(times, control_t, color=CTRL, lw=3.0, zorder=4)
ax.plot(times, ens_mean_t, color=WHITE, lw=3.0, zorder=5)
ax.plot(times, oper_t, color=OPER, lw=3.0, zorder=6)

for p, c in zip(member_p, member_colors):
    ax2.plot(times, p, color=c, lw=0.8, zorder=2)
ax2.plot(times, control_p, color=CTRL, lw=3.0, zorder=4)
ax2.plot(times, ens_mean_p, color=WHITE, lw=3.0, zorder=5)
ax2.plot(times, oper_p, color=OPER, lw=3.0, zorder=6)

ax.set_xlim(0, 16.27)
ax.set_ylim(-20, 25)
ax2.set_ylim(0, 40)

ax.xaxis.set_major_locator(FixedLocator(xtick_days))
ax.set_xticklabels(xtick_labels)
ax.xaxis.set_minor_locator(MultipleLocator(1))
ax.yaxis.set_major_locator(MultipleLocator(5))
ax.grid(True, which='both', axis='x', color='#4a4a4a', lw=0.8, ls=(0, (4, 4)))
ax.grid(True, which='major', axis='y', color='#4a4a4a', lw=0.8, ls=(0, (4, 4)))
ax.set_axisbelow(True)

ax.tick_params(axis='x', which='both', length=0, colors='white', labelsize=7.5, pad=6)
ax.tick_params(axis='y', which='both', length=0, colors='white', labelsize=7.5, pad=7)
ax2.yaxis.set_major_locator(MultipleLocator(10))
ax2.yaxis.set_minor_locator(MultipleLocator(1))
ax2.tick_params(axis='y', which='both', direction='in', length=3.5, width=1,
                color='white', labelcolor='white', labelsize=7.5, pad=4)
for a in (ax, ax2):
    for s in a.spines.values():
        s.set_color('white')
        s.set_linewidth(1.0)

# labels
fig.text(436 / W, 1 - 12 / H, 'Brussels  (BE)  850 hPa Temp. & Neerslag | Thu, 20Aug2026 06Z',
         color='white', fontsize=11.6, fontweight='bold', ha='center', va='center')
fig.text(131 / W, 1 - 295 / H, '850 hPa Temp. (°C)', color='white', fontsize=7.5,
         rotation=90, ha='center', va='center')
fig.text(840 / W, 1 - 295 / H, 'Neerslag (mm)', color='white', fontsize=7.5,
         rotation=90, ha='center', va='center')
fig.text(486 / W, 1 - 589 / H, 'Date (UTC)', color='white', fontsize=7.5,
         ha='center', va='center')
fig.text(221 / W, 1 - 599 / H, 'GFS Ensemble, 51N, 4.5E', color='white', fontsize=11.4,
         ha='center', va='center')
fig.text(722 / W, 1 - 599 / H, 'Wetterzentrale.de', color='white', fontsize=11.4,
         ha='center', va='center')

# legend (two columns, drawn in figure pixels)
def leg_entry(xline, ytxt, label, color, yline=None):
    if yline is None:
        yline = ytxt
    fig.add_artist(Line2D([xline / W, (xline + 9) / W], [1 - yline / H, 1 - yline / H],
                          color=color, lw=1.6, transform=fig.transFigure))
    fig.text((xline + 9) / W, 1 - ytxt / H, label, color='white', fontsize=7.5,
             ha='left', va='center')

for k in range(30):
    row = k // 2
    col = k % 2
    xline = -1 if col == 0 else 54
    leg_entry(xline, 39.5 + 15 * row, member_names[k], member_colors[k])
leg_entry(-1, 264.5, 'Control', CTRL)
leg_entry(54, 264.5, 'Ens. mean', WHITE)
leg_entry(54, 291.7, '1991-2020', RED)
fig.text(63 / W, 1 - 302.5 / H, 'mean', color='white', fontsize=7.5, ha='left', va='center')
leg_entry(-1, 305.5, 'Oper', OPER, yline=307)

fig.savefig('out.png', dpi=100, facecolor='black')
